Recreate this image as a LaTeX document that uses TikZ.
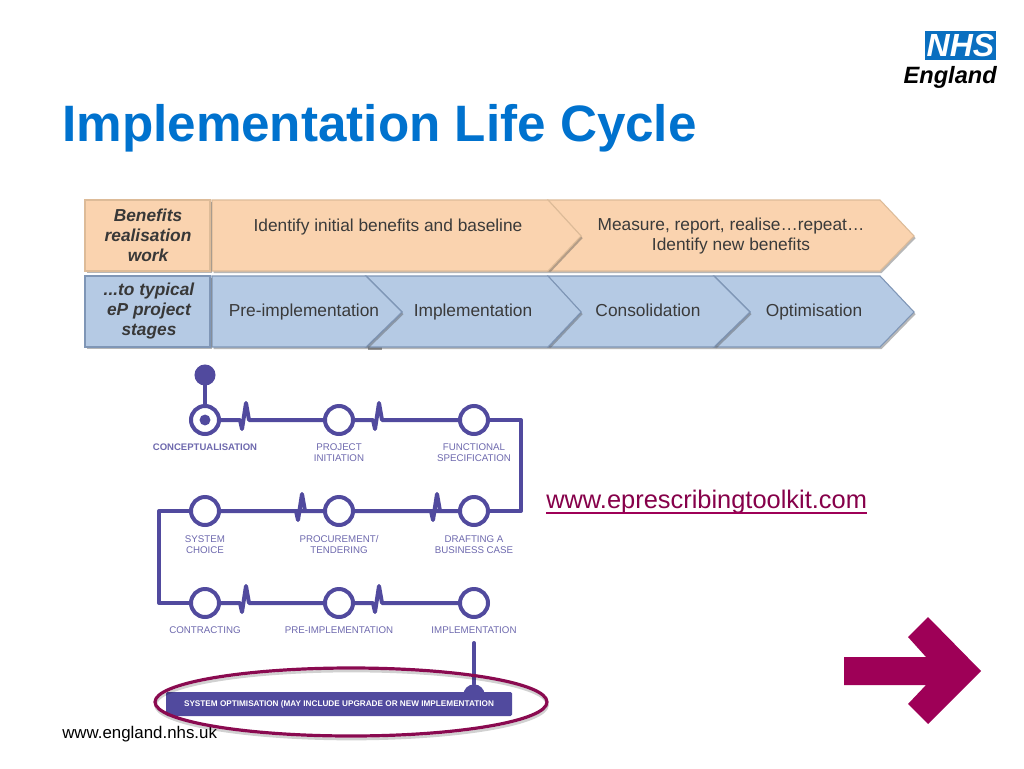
\documentclass[tikz,border=0pt]{standalone}
\usepackage{fontspec}
\setmainfont{Liberation Sans}
\usetikzlibrary{shadows}
\definecolor{nhsblue}{HTML}{0072CE}
\definecolor{logoblue}{HTML}{0A6FC0}
\definecolor{berry}{HTML}{9E0057}
\definecolor{ringc}{HTML}{8A0A50}
\definecolor{orangef}{HTML}{FAD3AF}
\definecolor{oranged}{HTML}{DDBB98}
\definecolor{bluef}{HTML}{B5CAE4}
\definecolor{blued}{HTML}{7F96B6}
\definecolor{tl}{HTML}{514A9E}
\definecolor{tltext}{HTML}{6E69AE}
\definecolor{stagetext}{HTML}{3A3A3A}
\tikzset{
  x=0.75pt,y=-0.75pt,
  softshadow/.style={drop shadow={shadow xshift=1.2pt,shadow yshift=-1.6pt,opacity=0.4,fill=black!70}},
  ofill/.style={fill=orangef,draw=oranged,line width=0.8pt,line join=miter,softshadow},
  bfill/.style={fill=bluef,draw=blued,line width=0.8pt,line join=miter,softshadow},
  headtext/.style={font=\fontsize{13}{15}\selectfont\bfseries\itshape,align=center,text=black!78,inner sep=0pt},
  stagelabel/.style={font=\fontsize{13}{15}\selectfont,align=center,text=stagetext,inner sep=0pt},
  stagebase/.style={stagelabel,anchor=base},
  tlline/.style={draw=tl,line width=3pt,line join=round,line cap=round},
  stop/.style={circle,draw=tl,line width=3pt,fill=white,minimum size=21pt,inner sep=0pt},
  tllabel/.style={font=\fontsize{7.3}{8.3}\selectfont,align=center,text=tltext,inner sep=0pt},
}
\begin{document}
\begin{tikzpicture}
\useasboundingbox (0,0) rectangle (1024,768);
\fill[white] (0,0) rectangle (1024,768);
% title and logo
\node[anchor=base west,inner sep=0pt,text=nhsblue,font=\fontsize{38.4}{42}\selectfont\bfseries] (title) at (62,141) {Implementation Life Cycle};
\node[fill=logoblue,minimum width=53.25pt,minimum height=21.75pt,inner sep=0pt,text=white,font=\fontsize{24}{24}\selectfont\bfseries\itshape] (logo) at (960.5,45.5) {NHS};
\node[anchor=base east,inner sep=0pt,font=\fontsize{17.7}{20}\selectfont\bfseries\itshape] (england) at (997,83) {England};
% orange row
\draw[ofill] (548,200) -- (880,200) -- (914,236) -- (880,271) -- (548,271) -- (581,236) -- cycle;
\draw[ofill] (212,200) -- (548,200) -- (581,236) -- (548,271) -- (212,271) -- cycle;
\draw[ofill] (85,200) rectangle (210,271);
% blue row
\fill[black!40] (368,347) rectangle (382,350);
\draw[bfill] (714,276) -- (880,276) -- (914,312) -- (880,347) -- (714,347) -- (750,312) -- cycle;
\draw[bfill] (548,276) -- (714,276) -- (750,312) -- (714,347) -- (548,347) -- (581,312) -- cycle;
\draw[bfill] (366,276) -- (548,276) -- (581,312) -- (548,347) -- (366,347) -- (402,312) -- cycle;
\draw[bfill] (212,276) -- (366,276) -- (402,312) -- (366,347) -- (212,347) -- cycle;
\draw[bfill] (85,276) rectangle (210,347);
\node[headtext] (benefits) at (148,235) {Benefits\\realisation\\work};
\node[headtext] (typical) at (149,311) {...to typical\\eP project\\stages};
\node[stagebase] (identify) at (388,231) {Identify initial benefits and baseline};
\node[stagelabel] (measure) at (731,236) {Measure, report, realise…repeat…\\Identify new benefits};
\node[stagebase] (preimp) at (304,316.5) {Pre-implementation};
\node[stagebase] (imp) at (473,316.5) {Implementation};
\node[stagebase] (cons) at (648,316.5) {Consolidation};
\node[stagebase] (opt) at (814,316.5) {Optimisation};
% timeline stops
\node[stop] (a1) at (205,420) {};
\node[stop] (a2) at (339,420) {};
\node[stop] (a3) at (474,420) {};
\node[stop] (b1) at (205,511) {};
\node[stop] (b2) at (339,511) {};
\node[stop] (b3) at (474,511) {};
\node[stop] (c1) at (205,603) {};
\node[stop] (c2) at (339,603) {};
\node[stop] (c3) at (474,603) {};
\node[circle,fill=tl,minimum size=15.8pt,inner sep=0pt] (start) at (205,375) {};
\node[circle,fill=tl,minimum size=8.2pt,inner sep=0pt] (inner) at (205,420) {};
\coordinate (p1) at (240,420);
\coordinate (p2) at (373,420);
\coordinate (p3) at (296,511);
\coordinate (p4) at (431,511);
\coordinate (p5) at (240,603);
\coordinate (p6) at (373,603);
\coordinate (ne) at (521,420);
\coordinate (se) at (521,511);
\coordinate (nw) at (159,511);
\coordinate (sw) at (159,603);
\coordinate (stem) at (474,643);
\draw[tlline] (start) -- (a1);
\draw[tlline] (a1) -- (p1) -- ++(2,9) -- ++(4,-26) -- ++(3,17) -- (a2);
\draw[tlline] (a2) -- (p2) -- ++(2,9) -- ++(4,-26) -- ++(3,17) -- (a3);
\draw[tlline] (a3) -- (ne) -- (se) -- (b3);
\draw[tlline] (b3) -- (p4) -- ++(2,9) -- ++(4,-26) -- ++(3,17) -- (b2);
\draw[tlline] (b2) -- (p3) -- ++(2,9) -- ++(4,-26) -- ++(3,17) -- (b1);
\draw[tlline] (b1) -- (nw) -- (sw) -- (c1);
\draw[tlline] (c1) -- (p5) -- ++(2,9) -- ++(4,-26) -- ++(3,17) -- (c2);
\draw[tlline] (c2) -- (p6) -- ++(2,9) -- ++(4,-26) -- ++(3,17) -- (c3);
% labels
\node[tllabel,font=\fontsize{7.15}{8.3}\selectfont\bfseries] (l1) at (205,447) {CONCEPTUALISATION};
\node[tllabel] (l2) at (339,452.5) {PROJECT\\INITIATION};
\node[tllabel] (l3) at (474,452.5) {FUNCTIONAL\\SPECIFICATION};
\node[tllabel] (l4) at (205,544.5) {SYSTEM\\CHOICE};
\node[tllabel] (l5) at (339,544.5) {PROCUREMENT/\\TENDERING};
\node[tllabel] (l6) at (474,544.5) {DRAFTING A\\BUSINESS CASE};
\node[tllabel] (l7) at (205,630) {CONTRACTING};
\node[tllabel] (l8) at (339,630) {PRE-IMPLEMENTATION};
\node[tllabel] (l9) at (474,630) {IMPLEMENTATION};
% optimisation bar
\node[circle,fill=tl,minimum size=16pt,inner sep=0pt] (dome) at (474,695) {};
\node[fill=tl,rounded corners=1pt,minimum width=259.5pt,minimum height=18pt,inner sep=0pt,text=white,font=\fontsize{6.15}{7}\selectfont\bfseries] (bar) at (339,704) {\raisebox{-1pt}{SYSTEM OPTIMISATION (MAY INCLUDE UPGRADE OR NEW IMPLEMENTATION}};
\draw[tlline] (stem) -- (dome);
% footer, ring, link
\node[anchor=base west,inner sep=0pt,font=\fontsize{12.65}{14}\selectfont] (footer) at (62,738) {www.england.nhs.uk};
\draw[black,opacity=0.18,line width=2pt] (351.5,705) ellipse [x radius=196,y radius=34];
\draw[draw=ringc,line width=2.4pt] (351,702) ellipse [x radius=196,y radius=34];
\node[anchor=base west,inner sep=0pt,text=berry!85!black,font=\fontsize{19.07}{21}\selectfont] (link) at (546,508.5) {www.eprescribingtoolkit.com};
\draw[berry,line width=1.3pt] ([yshift=-3.4pt]link.base west) -- ([yshift=-3.4pt]link.base east);
% arrow
\fill[berry] (844,657) -- (926,657) -- (908,637) -- (928,617) -- (981,671) -- (928,724) -- (908,704) -- (926,685) -- (844,685) -- cycle;
\end{tikzpicture}
\end{document}
